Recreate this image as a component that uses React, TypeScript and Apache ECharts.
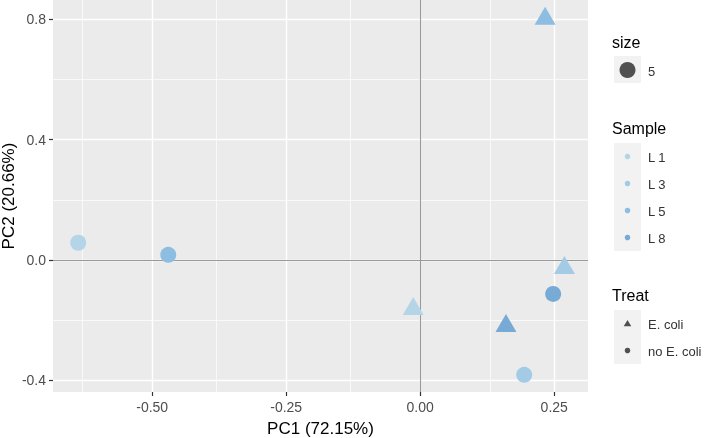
import React, { useEffect, useRef } from "react";
import * as echarts from "echarts";

const samples = ["L 1", "L 3", "L 5", "L 8"];
const sampleColors = ["#b4d5e8", "#a3cbe5", "#8dbde0", "#78aad6"];
const treats = ["E. coli", "no E. coli"];
// per point
const pointSample = ["L 1", "L 1", "L 3", "L 3", "L 5", "L 5", "L 8", "L 8"];
const pointTreat = ["no E. coli", "E. coli", "no E. coli", "E. coli", "no E. coli", "E. coli", "no E. coli", "E. coli"];
const pc1 = [-0.638, -0.013, 0.194, 0.269, -0.47, 0.233, 0.248, 0.16];
const pc2 = [0.057, -0.153, -0.382, -0.017, 0.017, 0.812, -0.113, -0.21];

const xTicks = [-0.5, -0.25, 0, 0.25];
const xMinor = [-0.625, -0.375, -0.125, 0.125];
const yTicks = [-0.4, 0, 0.4, 0.8];
const yMinor = [-0.2, 0.2, 0.6];
const sizeLevels = ["5"];

const FONT = "'Liberation Sans', Arial, sans-serif";

export default function App() {
  const ref = useRef<HTMLDivElement>(null);
  useEffect(() => {
    if (!ref.current) return;
    const chart = echarts.init(ref.current, null, { renderer: "svg" });

    const gridLines = (vals: number[], key: "xAxis" | "yAxis", width: number, color: string) =>
      vals.map((v) => ({ [key]: v, lineStyle: { color, width, type: "solid" } }));

    const pointSeries = samples.map((s, si) => ({
      type: "scatter",
      name: s,
      z: 5,
      data: pc1
        .map((x, i) => ({ x, i }))
        .filter((p) => pointSample[p.i] === s)
        .map((p) => {
          const tri = pointTreat[p.i] === treats[0];
          return {
            value: [p.x, pc2[p.i]],
            symbol: tri ? "triangle" : "circle",
            symbolSize: tri ? [21, 18] : 16,
          };
        }),
      itemStyle: { color: sampleColors[si], opacity: 1 },
    }));

    const lx = 612;
    const keyX = 614;
    const keyW = 27;
    const graphics: any[] = [];
    const title = (t: string, y: number) =>
      graphics.push({
        type: "text",
        x: lx,
        y,
        style: { text: t, fontSize: 16, fill: "#000", fontFamily: FONT, verticalAlign: "middle", align: "left" },
      });
    const label = (t: string, y: number) =>
      graphics.push({
        type: "text",
        x: 648,
        y,
        style: { text: t, fontSize: 13, fill: "#333", fontFamily: FONT, verticalAlign: "middle", align: "left" },
      });
    // size legend
    title("size", 42);
    graphics.push({ type: "rect", shape: { x: keyX, y: 56, width: keyW, height: 27 }, style: { fill: "#f2f2f2" } });
    graphics.push({ type: "circle", shape: { cx: keyX + keyW / 2, cy: 70, r: 8 }, style: { fill: "#505050" } });
    label(sizeLevels[0], 71);
    // sample legend
    title("Sample", 128);
    graphics.push({ type: "rect", shape: { x: keyX, y: 143, width: keyW, height: 27 * samples.length }, style: { fill: "#f2f2f2" } });
    samples.forEach((s, i) => {
      const cy = 156.5 + i * 27;
      graphics.push({ type: "circle", shape: { cx: keyX + keyW / 2, cy, r: 2.8 }, style: { fill: sampleColors[i] } });
      label(s, cy + 1);
    });
    // treat legend
    title("Treat", 295);
    graphics.push({ type: "rect", shape: { x: keyX, y: 310, width: keyW, height: 27 * treats.length }, style: { fill: "#f2f2f2" } });
    treats.forEach((t, i) => {
      const cy = 323.5 + i * 27;
      if (i === 0) {
        graphics.push({
          type: "polygon",
          shape: { points: [[keyX + keyW / 2, cy - 3.5], [keyX + keyW / 2 + 3.8, cy + 2.8], [keyX + keyW / 2 - 3.8, cy + 2.8]] },
          style: { fill: "#505050" },
        });
      } else {
        graphics.push({ type: "circle", shape: { cx: keyX + keyW / 2, cy, r: 2.8 }, style: { fill: "#505050" } });
      }
      label(t, cy + 1);
    });

    chart.setOption({
      animation: false,
      textStyle: { fontFamily: FONT },
      grid: {
        left: 53,
        top: 0,
        width: 535,
        height: 392,
        show: true,
        backgroundColor: "#ebebeb",
        borderWidth: 0,
        containLabel: false,
        outerBoundsMode: "none",
      },
      xAxis: {
        type: "value",
        min: -0.685,
        max: 0.313,
        name: "PC1 (72.15%)",
        nameLocation: "middle",
        nameGap: 28,
        nameMoveOverlap: false,
        nameTextStyle: { fontSize: 17, color: "#000", fontFamily: FONT },
        axisLine: { show: false, onZero: false },
        splitLine: { show: false },
        axisTick: { show: true, customValues: xTicks, length: 4, lineStyle: { color: "#333", width: 1.2 } },
        axisLabel: {
          customValues: xTicks,
          formatter: (v: number) => v.toFixed(2),
          fontSize: 14,
          color: "#4d4d4d",
          margin: 8,
          fontFamily: FONT,
        },
      },
      yAxis: {
        type: "value",
        min: -0.439,
        max: 0.864,
        name: "PC2 (20.66%)",
        nameLocation: "middle",
        nameGap: 36,
        nameMoveOverlap: false,
        nameTextStyle: { fontSize: 17, color: "#000", fontFamily: FONT },
        axisLine: { show: false, onZero: false },
        splitLine: { show: false },
        axisTick: { show: true, customValues: yTicks, length: 4, lineStyle: { color: "#333", width: 1.2 } },
        axisLabel: {
          customValues: yTicks,
          formatter: (v: number) => v.toFixed(1),
          fontSize: 14,
          color: "#4d4d4d",
          margin: 7,
          fontFamily: FONT,
        },
      },
      graphic: graphics,
      series: [
        {
          type: "scatter",
          name: "grid",
          data: [],
          z: 1,
          silent: true,
          markLine: {
            silent: true,
            symbol: ["none", "none"],
            label: { show: false },
            animation: false,
            data: [
              ...gridLines(xMinor, "xAxis", 0.7, "#ffffff"),
              ...gridLines(yMinor, "yAxis", 0.7, "#ffffff"),
              ...gridLines(xTicks, "xAxis", 1.4, "#ffffff"),
              ...gridLines(yTicks, "yAxis", 1.4, "#ffffff"),
            ],
          },
        },
        {
          type: "scatter",
          name: "ref",
          data: [],
          z: 2,
          silent: true,
          markLine: {
            silent: true,
            symbol: ["none", "none"],
            label: { show: false },
            animation: false,
            data: [
              { xAxis: 0, lineStyle: { color: "#999999", width: 1.1, type: "solid" } },
              { yAxis: 0, lineStyle: { color: "#999999", width: 1.1, type: "solid" } },
            ],
          },
        },
        ...pointSeries,
      ],
    });
    return () => chart.dispose();
  }, []);
  return <div ref={ref} style={{ position: "fixed", left: 0, top: 0, width: 708, height: 438 }} />;
}
